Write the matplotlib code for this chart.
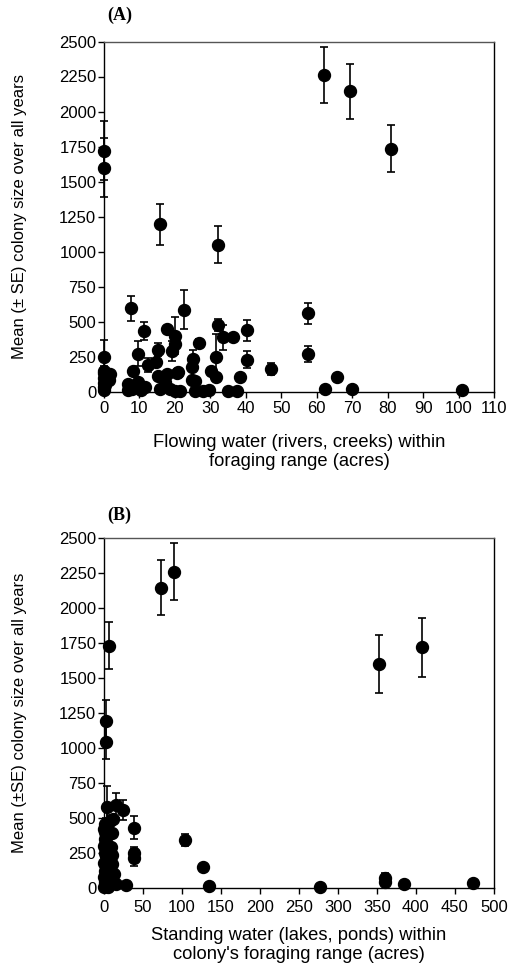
import matplotlib
matplotlib.use("Agg")
import matplotlib.pyplot as plt
import numpy as np

plt.rcParams['font.family'] = ['Liberation Sans', 'DejaVu Sans']

# ---------------- Panel A data: flowing water ----------------
flow_x = [0, 0, 62, 69.5, 81, 15.8, 32.1,
          7.6, 11.3, 9.7, 22.6, 17.9, 20, 20, 19.1, 15.1, 14.8, 12.5, 8.3,
          0, 0, 0, 0, 0, 0, 0, 1.7, 0.3,
          6.9, 9.7, 11.6, 8.0, 6.9, 15.1, 15.8, 17.7, 17.2, 20.8, 20, 21.4, 20.7,
          25.2, 24.7, 24.7, 25.6, 26.9, 25.7, 28, 29.6, 30.2, 31.5,
          31.6, 32.1, 33.5, 36.3, 35.1, 37.4, 38.4, 40.2, 40.2, 47.1,
          57.6, 57.6, 62.3, 65.8, 69.9, 100.9, 1.5, 10.5, 18.5]
flow_y = [1720, 1600, 2260, 2145, 1735, 1195, 1050,
          595, 435, 270, 585, 445, 400, 340, 288, 298, 210, 186, 150,
          245, 150, 130, 95, 60, 30, 10, 128, 43,
          55, 66, 31, 15, 10, 114, 19, 126, 66, 138, 7, 7, 131,
          233, 174, 83, 78, 345, 7, 7, 10, 150, 250,
          107, 476, 388, 388, 7, 7, 102, 436, 226, 160,
          560, 265, 19, 102, 19, 12, 85, 12, 20]
flow_err = [210, 210, 200, 195, 170, 145, 130,
            88, 65, 88, 138, 10, 130, 20, 70, 45, 25, 50, 0,
            120, 30, 0, 0, 0, 0, 0, 0, 0,
            0, 0, 0, 0, 0, 0, 0, 0, 0, 0, 0, 0, 0,
            65, 0, 0, 0, 30, 0, 0, 0, 0, 160,
            0, 45, 88, 20, 0, 0, 0, 78, 60, 42,
            75, 57, 0, 0, 0, 0, 0, 0, 0]

# ---------------- Panel B data: standing water ----------------
stand_x = [72.5, 90.3, 408, 352, 6.8, 2.5, 2.5,
           3.4, 14.9, 24.6, 38.6, 38.6, 38.6, 104.3, 126.3, 134.9, 28.7,
           277, 360, 360, 385, 473, 7.6, 11.8,
           1, 2, 0.5, 1.5, 3, 1, 2, 0.5, 3, 1, 2, 4, 0.5, 2, 1, 3, 0.5, 2, 1, 3, 0.5, 5,
           9.7, 9.7, 10.6, 13.1, 14.9, 9, 8]
stand_y = [2144, 2260, 1720, 1600, 1730, 1190, 1046,
           580, 592, 556, 432, 217, 250, 345, 150, 14, 19,
           7, 75, 45, 26, 38, 480, 492,
           460, 440, 420, 400, 380, 350, 330, 300, 280, 250, 230, 200, 180, 150, 120, 100, 80, 60, 40, 20, 5, 10,
           396, 236, 170, 103, 26, 290, 60]
stand_err = [197, 203, 210, 210, 168, 150, 125,
             150, 90, 72, 80, 60, 40, 42, 0, 0, 0,
             0, 35, 0, 0, 0, 40, 20,
             0, 60, 0, 0, 0, 0, 0, 0, 0, 0, 0, 0, 0, 0, 0, 0, 0, 0, 0, 0, 0, 0,
             0, 0, 60, 0, 0, 0, 0]

flow_xticks = list(range(0, 111, 10))
stand_xticks = list(range(0, 501, 50))
yticks = list(range(0, 2501, 250))

fig = plt.figure(figsize=(5.08, 9.65), dpi=100)

axA = fig.add_axes([104/508, 1-391.5/965, 390/508, 350/965])
axB = fig.add_axes([104/508, 1-888/965, 390/508, 350/965])

TFS = 12
LFS = 13.2

def style(ax, xticks, xlim, xlabel, ylabel, tag, xpad, lpad, tagy):
    ax.set_xlim(*xlim)
    ax.set_ylim(0, 2500)
    ax.set_xticks(xticks)
    ax.set_yticks(yticks)
    ax.tick_params(direction='out', length=4, width=1, labelsize=TFS, pad=1.5, colors='black')
    ax.tick_params(axis='x', pad=xpad)
    for s in ax.spines.values():
        s.set_linewidth(1.0)
        s.set_color('black')
    ax.spines['top'].set_color('#555555')
    ax.set_xlabel(xlabel, fontsize=LFS, labelpad=lpad, linespacing=1.15)
    ax.set_ylabel(ylabel, fontsize=12, labelpad=23)
    ax.text(0.008, tagy, tag, transform=ax.transAxes, fontsize=13, fontweight='bold',
            family='Liberation Serif', ha='left', va='bottom')

axA.errorbar(flow_x, flow_y, yerr=flow_err, fmt='o', color='black', ms=8.6,
             elinewidth=1.2, capsize=3, capthick=1.2, clip_on=False, zorder=3)
style(axA, flow_xticks, (0, 110),
      "Flowing water (rivers, creeks) within\nforaging range (acres)",
      "Mean (\u00b1 SE) colony size over all years", "(A)", 2.5, 13, 1.05)

axB.errorbar(stand_x, stand_y, yerr=stand_err, fmt='o', color='black', ms=8.6,
             elinewidth=1.2, capsize=3, capthick=1.2, clip_on=False, zorder=3)
style(axB, stand_xticks, (0, 500),
      "Standing water (lakes, ponds) within\ncolony's foraging range (acres)",
      "Mean (\u00b1SE) colony size over all years", "(B)", 5, 8, 1.04)

fig.savefig("out.png", dpi=100)
